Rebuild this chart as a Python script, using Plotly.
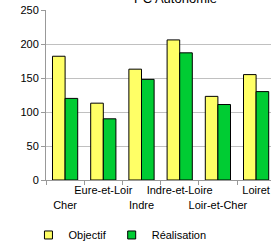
import plotly.graph_objects as go

categories = ["Cher", "Eure-et-Loir", "Indre", "Indre-et-Loire", "Loir-et-Cher", "Loiret"]
tick_labels = ["<br>Cher", "Eure-et-Loir", "<br>Indre", "Indre-et-Loire", "<br>Loir-et-Cher", "Loiret"]
objectif = [182, 113, 163, 206, 123, 155]
realisation = [120, 90, 148, 187, 111, 130]
title_text = "PC Autonomie"
yellow = "#FFFF66"
green = "#00CC33"

fig = go.Figure()
fig.add_trace(go.Bar(x=categories, y=objectif, name="Objectif", showlegend=False,
                     marker=dict(color=yellow, line=dict(color="#000000", width=1))))
fig.add_trace(go.Bar(x=categories, y=realisation, name="Réalisation", showlegend=False,
                     marker=dict(color=green, line=dict(color="#000000", width=1))))
# legend entries (small squares like the reference)
fig.add_trace(go.Scatter(x=[None], y=[None], mode="markers", name="Objectif",
                         marker=dict(symbol="square", size=8, color=yellow,
                                     line=dict(color="#000000", width=1))))
fig.add_trace(go.Scatter(x=[None], y=[None], mode="markers", name="Réalisation",
                         marker=dict(symbol="square", size=8, color=green,
                                     line=dict(color="#000000", width=1))))

fig.add_annotation(text=title_text, xref="paper", yref="paper", x=0.575, y=1.065,
                   xanchor="center", yanchor="middle", showarrow=False,
                   font=dict(size=13, color="#000000"))

fig.update_layout(
    width=271, height=241,
    margin=dict(l=46, r=0, t=10, b=61),
    paper_bgcolor="white", plot_bgcolor="white",
    font=dict(family="Liberation Sans, Arial, sans-serif", size=11, color="#000000"),
    barmode="group", bargap=0.34, bargroupgap=0,
    showlegend=True,
    legend=dict(orientation="h", xref="container", yref="container",
                x=0.105, xanchor="left", y=0.025, yanchor="middle",
                font=dict(size=11), itemwidth=30, traceorder="normal",
                bgcolor="rgba(0,0,0,0)"),
    xaxis=dict(type="category", tickmode="array", tickvals=categories, ticktext=tick_labels,
               range=[-0.5, 5.39], tickson="boundaries", ticks="outside", ticklen=4,
               tickangle=0,
               tickcolor="#999999", showline=True, linecolor="#999999", linewidth=1,
               showgrid=False, tickfont=dict(size=11)),
    yaxis=dict(range=[0, 250], dtick=50, showgrid=True, gridcolor="#C0C0C0", gridwidth=1,
               showline=True, linecolor="#999999", linewidth=1, ticks="outside", ticklen=4,
               tickcolor="#999999", zeroline=False, tickfont=dict(size=11)),
)

fig.write_html("out.html", config={"displayModeBar": False},
               post_script="document.body.style.margin='0';")
